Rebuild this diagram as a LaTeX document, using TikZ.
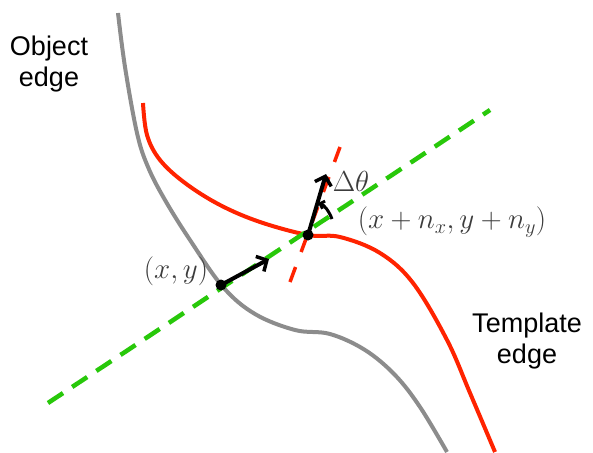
\RequirePackage{fix-cm}
\documentclass[tikz,border=0pt]{standalone}
\usepackage{fontspec}
\newfontfamily\lblfont{Liberation Sans}
\usetikzlibrary{arrows.meta}
\definecolor{objgray}{RGB}{140,140,140}
\definecolor{tmplred}{RGB}{255,35,0}
\definecolor{lgreen}{RGB}{40,200,10}
\definecolor{mathgray}{RGB}{60,60,60}
\tikzset{
  objcurve/.style={draw=objgray, line width=4pt},
  tmplcurve/.style={draw=tmplred, line width=4pt},
  greendash/.style={draw=lgreen, line width=4.5pt, dash pattern=on 18pt off 11pt},
  reddash/.style={draw=tmplred, line width=3.5pt, dash pattern=on 16pt off 16pt},
  dot/.style={circle, fill=black, inner sep=0pt, minimum size=11pt},
  vec/.style={draw=black, line width=4pt, -{Straight Barb[length=8pt,width=17pt,line width=3.5pt]}},
  anglearr/.style={draw=black, line width=3pt, -{Straight Barb[length=4pt,width=8pt]}},
  mathlbl/.style={text=mathgray, font=\fontsize{29}{32}\selectfont, inner sep=0pt},
  sidelbl/.style={font=\lblfont\fontsize{27}{31}\selectfont, align=center, inner sep=0pt},
}
\begin{document}
\begin{tikzpicture}[x=1pt,y=-1pt]
\useasboundingbox (0,0) rectangle (593,452);
% object edge
\draw[objcurve] plot[smooth, tension=0.6] coordinates {(118,13) (125,67) (137,133) (148,167) (165,200) (190,240) (223,287) (255,314) (295,330) (330,334) (365,350) (395,375) (420,407) (447,452)};
% template edge
\draw[tmplcurve] plot[smooth, tension=0.6] coordinates {(143,103) (147,135) (160,160) (185,183) (220,205) (260,222) (308,235) (340,237) (380,253) (413,283) (447,340) (470,393) (495,452)};
% dashed lines
\coordinate (g1) at (48,403);
\coordinate (g2) at (490,110);
\coordinate (r1) at (290,282);
\coordinate (r2) at (340,147);
\draw[greendash] (g1) -- (g2);
\draw[reddash] (r1) -- (r2);
% points
\node[dot] (p) at (221,285) {};
\node[dot] (q) at (308,235) {};
\coordinate (pt) at (269,259);
\coordinate (qt) at (326,174);
\draw[vec] (p.center) -- (pt);
\draw[vec] (q.center) -- (qt);
% angle arc
\coordinate (a1) at (332,219);
\coordinate (a2) at (318,203);
\draw[anglearr] (a1) .. controls (329,211) and (324,205) .. (a2);
% labels
\node[mathlbl] (lxy) at (176,271) {$(x,y)$};
\node[mathlbl] (ldt) at (351,181) {$\Delta\theta$};
\node[mathlbl] (lxn) at (452,222) {$(x+n_x,y+n_y)$};
\node[sidelbl] (lobj) at (49,64) {Object\\edge};
\node[sidelbl] (ltmp) at (527,341) {Template\\edge};
\end{tikzpicture}
\end{document}
